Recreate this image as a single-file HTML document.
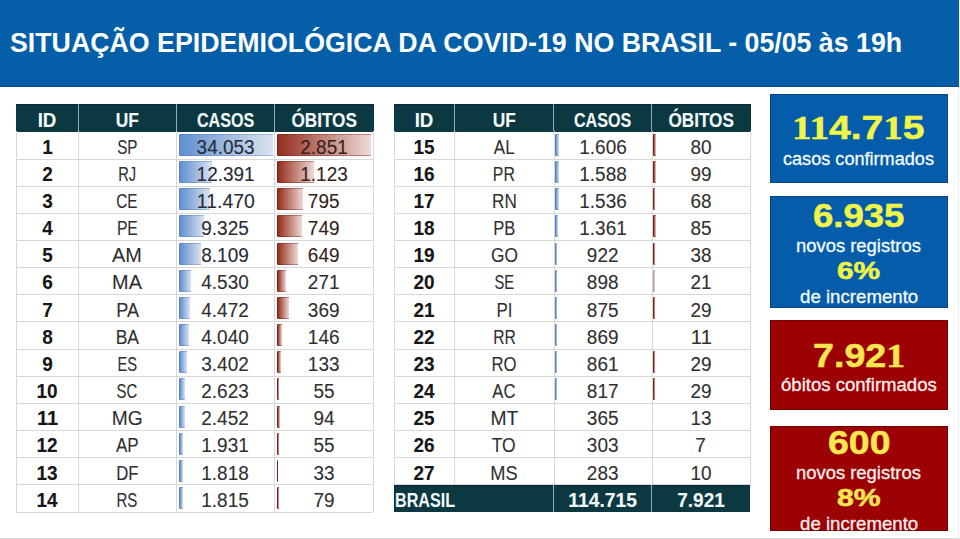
<!DOCTYPE html>
<html><head><meta charset="utf-8"><style>
*{margin:0;padding:0;box-sizing:border-box}
html,body{width:960px;height:539px;overflow:hidden;background:#fff}
body{position:relative;font-family:"Liberation Sans",sans-serif}
div{position:absolute}
#top{left:0;top:0;width:958.5px;height:87px;background:#055ea8;box-shadow:inset 0 -1.5px 0 #0b4f8c}
#title{left:10.4px;top:30.14px;line-height:27.0px;white-space:nowrap;color:#fdfeff;font-weight:bold;font-size:27.0px;transform:scaleX(0.9905);transform-origin:0 0}
#botline{left:0;top:537.6px;width:960px;height:1.4px;background:#dadada}
#rline{left:958px;top:87px;width:1px;height:452px;background:#ededed}
.hd{background:#0c3842;box-shadow:inset 0 1px 0 #082b33}
.hsep{width:1px;background:#8fb0b8}
.c{text-align:center;white-space:nowrap}
.c span{display:inline-block}
.hl{height:1px;background:#d8d8d8}
.vl{width:1px;background:#d8d8d8}
.bar{}
.bn{-webkit-text-stroke:0.5px currentColor}
.sn{-webkit-text-stroke:0.3px currentColor}
.sf{font-family:"Liberation Serif",serif}
.c{-webkit-text-stroke:0.1px currentColor}
.bl{background:linear-gradient(90deg,#6190d1 0%,#dbe3f0 100%);border-left:1px solid #5682c4;border-top:1px solid rgba(70,115,185,.35);border-bottom:1px solid rgba(70,115,185,.35)}
.rd{background:linear-gradient(90deg,#952e1e 0%,#efdad6 100%);border-left:1px solid #7a2016;border-top:1px solid rgba(115,30,20,.4);border-bottom:1px solid rgba(115,30,20,.4)}
</style></head><body>
<div id="top"></div>
<div id="title">SITUAÇÃO EPIDEMIOLÓGICA DA COVID-19 NO BRASIL - 05/05 às 19h</div>
<div class="hd" style="left:16.3px;top:104.3px;width:357.40px;height:27.36px"></div>
<div class="hsep" style="left:77.5px;top:104.3px;height:27.16px"></div>
<div class="hsep" style="left:175.8px;top:104.3px;height:27.16px"></div>
<div class="hsep" style="left:274.0px;top:104.3px;height:27.16px"></div>
<div class="c" style="left:16.30px;top:109.97px;width:61.70px;font-size:20.0px;line-height:20.0px;color:#f4fbfd;font-weight:bold;"><span style="transform:scaleX(0.933)">ID</span></div>
<div class="c" style="left:78.00px;top:109.97px;width:98.30px;font-size:20.0px;line-height:20.0px;color:#f4fbfd;font-weight:bold;"><span style="transform:scaleX(0.868)">UF</span></div>
<div class="c" style="left:176.30px;top:109.97px;width:98.20px;font-size:20.0px;line-height:20.0px;color:#f4fbfd;font-weight:bold;"><span style="transform:scaleX(0.806)">CASOS</span></div>
<div class="c" style="left:274.50px;top:109.97px;width:98.80px;font-size:20.0px;line-height:20.0px;color:#f4fbfd;font-weight:bold;"><span style="transform:scaleX(0.858)">ÓBITOS</span></div>
<div class="bar bl" style="left:178.80px;top:133.96px;width:94.00px;height:22.06px;"></div>
<div class="bar rd" style="left:277.00px;top:133.96px;width:94.00px;height:22.06px;"></div>
<div class="bar bl" style="left:178.80px;top:161.12px;width:33.70px;height:22.06px;"></div>
<div class="bar rd" style="left:277.00px;top:161.12px;width:36.89px;height:22.06px;"></div>
<div class="bar bl" style="left:178.80px;top:188.28px;width:31.14px;height:22.06px;"></div>
<div class="bar rd" style="left:277.00px;top:188.28px;width:26.05px;height:22.06px;"></div>
<div class="bar bl" style="left:178.80px;top:215.44px;width:25.17px;height:22.06px;"></div>
<div class="bar rd" style="left:277.00px;top:215.44px;width:24.52px;height:22.06px;"></div>
<div class="bar bl" style="left:178.80px;top:242.60px;width:21.78px;height:22.06px;"></div>
<div class="bar rd" style="left:277.00px;top:242.60px;width:21.22px;height:22.06px;"></div>
<div class="bar bl" style="left:178.80px;top:269.76px;width:11.82px;height:22.06px;"></div>
<div class="bar rd" style="left:277.00px;top:269.76px;width:8.73px;height:22.06px;"></div>
<div class="bar bl" style="left:178.80px;top:296.92px;width:11.66px;height:22.06px;"></div>
<div class="bar rd" style="left:277.00px;top:296.92px;width:11.96px;height:22.06px;"></div>
<div class="bar bl" style="left:178.80px;top:324.08px;width:10.46px;height:22.06px;"></div>
<div class="bar rd" style="left:277.00px;top:324.08px;width:4.59px;height:22.06px;"></div>
<div class="bar bl" style="left:178.80px;top:351.24px;width:8.68px;height:22.06px;"></div>
<div class="bar rd" style="left:277.00px;top:351.24px;width:4.16px;height:22.06px;"></div>
<div class="bar bl" style="left:178.80px;top:378.40px;width:6.51px;height:22.06px;"></div>
<div class="bar rd" style="left:277.00px;top:378.40px;width:1.59px;height:22.06px;"></div>
<div class="bar bl" style="left:178.80px;top:405.56px;width:6.04px;height:22.06px;"></div>
<div class="bar rd" style="left:277.00px;top:405.56px;width:2.88px;height:22.06px;"></div>
<div class="bar bl" style="left:178.80px;top:432.72px;width:4.59px;height:22.06px;"></div>
<div class="bar rd" style="left:277.00px;top:432.72px;width:1.59px;height:22.06px;"></div>
<div class="bar bl" style="left:178.80px;top:459.88px;width:4.27px;height:22.06px;"></div>
<div class="bar rd" style="left:277.00px;top:459.88px;width:1.20px;height:22.06px;"></div>
<div class="bar bl" style="left:178.80px;top:487.04px;width:4.26px;height:22.06px;"></div>
<div class="bar rd" style="left:277.00px;top:487.04px;width:2.38px;height:22.06px;"></div>
<div class="hl" style="left:16px;top:159px;width:357px"></div>
<div class="hl" style="left:16px;top:186px;width:357px"></div>
<div class="hl" style="left:16px;top:213px;width:357px"></div>
<div class="hl" style="left:16px;top:240px;width:357px"></div>
<div class="hl" style="left:16px;top:267px;width:357px"></div>
<div class="hl" style="left:16px;top:294px;width:357px"></div>
<div class="hl" style="left:16px;top:321px;width:357px"></div>
<div class="hl" style="left:16px;top:349px;width:357px"></div>
<div class="hl" style="left:16px;top:376px;width:357px"></div>
<div class="hl" style="left:16px;top:403px;width:357px"></div>
<div class="hl" style="left:16px;top:430px;width:357px"></div>
<div class="hl" style="left:16px;top:457px;width:357px"></div>
<div class="hl" style="left:16px;top:484px;width:357px"></div>
<div class="hl" style="left:16px;top:512px;width:357px"></div>
<div class="vl" style="left:16px;top:131px;height:381px"></div>
<div class="vl" style="left:78px;top:131px;height:381px"></div>
<div class="vl" style="left:176px;top:131px;height:381px"></div>
<div class="vl" style="left:274px;top:131px;height:381px"></div>
<div class="vl" style="left:373px;top:131px;height:381px"></div>
<div class="c" style="left:16.30px;top:136.63px;width:61.70px;font-size:20.0px;line-height:20.0px;color:#161616;font-weight:bold;"><span style="transform:scaleX(0.948)">1</span></div>
<div class="c" style="left:78.00px;top:136.63px;width:98.30px;font-size:20.0px;line-height:20.0px;color:#303030;"><span style="transform:scaleX(0.761)">SP</span></div>
<div class="c" style="left:176.30px;top:136.63px;width:98.20px;font-size:20.0px;line-height:20.0px;color:#262a36;"><span style="transform:scaleX(0.948)">34.053</span></div>
<div class="c" style="left:274.50px;top:136.63px;width:98.80px;font-size:20.0px;line-height:20.0px;color:#342222;"><span style="transform:scaleX(0.948)">2.851</span></div>
<div class="c" style="left:16.30px;top:163.79px;width:61.70px;font-size:20.0px;line-height:20.0px;color:#161616;font-weight:bold;"><span style="transform:scaleX(0.948)">2</span></div>
<div class="c" style="left:78.00px;top:163.79px;width:98.30px;font-size:20.0px;line-height:20.0px;color:#303030;"><span style="transform:scaleX(0.734)">RJ</span></div>
<div class="c" style="left:176.30px;top:163.79px;width:98.20px;font-size:20.0px;line-height:20.0px;color:#262a36;"><span style="transform:scaleX(0.948)">12.391</span></div>
<div class="c" style="left:274.50px;top:163.79px;width:98.80px;font-size:20.0px;line-height:20.0px;color:#342222;"><span style="transform:scaleX(0.948)">1.123</span></div>
<div class="c" style="left:16.30px;top:190.95px;width:61.70px;font-size:20.0px;line-height:20.0px;color:#161616;font-weight:bold;"><span style="transform:scaleX(0.948)">3</span></div>
<div class="c" style="left:78.00px;top:190.95px;width:98.30px;font-size:20.0px;line-height:20.0px;color:#303030;"><span style="transform:scaleX(0.764)">CE</span></div>
<div class="c" style="left:176.30px;top:190.95px;width:98.20px;font-size:20.0px;line-height:20.0px;color:#262a36;"><span style="transform:scaleX(0.971)">11.470</span></div>
<div class="c" style="left:274.50px;top:190.95px;width:98.80px;font-size:20.0px;line-height:20.0px;color:#342222;"><span style="transform:scaleX(0.948)">795</span></div>
<div class="c" style="left:16.30px;top:218.11px;width:61.70px;font-size:20.0px;line-height:20.0px;color:#161616;font-weight:bold;"><span style="transform:scaleX(0.948)">4</span></div>
<div class="c" style="left:78.00px;top:218.11px;width:98.30px;font-size:20.0px;line-height:20.0px;color:#303030;"><span style="transform:scaleX(0.784)">PE</span></div>
<div class="c" style="left:176.30px;top:218.11px;width:98.20px;font-size:20.0px;line-height:20.0px;color:#262a36;"><span style="transform:scaleX(0.948)">9.325</span></div>
<div class="c" style="left:274.50px;top:218.11px;width:98.80px;font-size:20.0px;line-height:20.0px;color:#342222;"><span style="transform:scaleX(0.948)">749</span></div>
<div class="c" style="left:16.30px;top:245.27px;width:61.70px;font-size:20.0px;line-height:20.0px;color:#161616;font-weight:bold;"><span style="transform:scaleX(0.948)">5</span></div>
<div class="c" style="left:78.00px;top:245.27px;width:98.30px;font-size:20.0px;line-height:20.0px;color:#303030;"><span style="transform:scaleX(0.994)">AM</span></div>
<div class="c" style="left:176.30px;top:245.27px;width:98.20px;font-size:20.0px;line-height:20.0px;color:#262a36;"><span style="transform:scaleX(0.948)">8.109</span></div>
<div class="c" style="left:274.50px;top:245.27px;width:98.80px;font-size:20.0px;line-height:20.0px;color:#342222;"><span style="transform:scaleX(0.948)">649</span></div>
<div class="c" style="left:16.30px;top:272.43px;width:61.70px;font-size:20.0px;line-height:20.0px;color:#161616;font-weight:bold;"><span style="transform:scaleX(0.948)">6</span></div>
<div class="c" style="left:78.00px;top:272.43px;width:98.30px;font-size:20.0px;line-height:20.0px;color:#303030;"><span style="transform:scaleX(0.994)">MA</span></div>
<div class="c" style="left:176.30px;top:272.43px;width:98.20px;font-size:20.0px;line-height:20.0px;color:#303030;"><span style="transform:scaleX(0.948)">4.530</span></div>
<div class="c" style="left:274.50px;top:272.43px;width:98.80px;font-size:20.0px;line-height:20.0px;color:#303030;"><span style="transform:scaleX(0.948)">271</span></div>
<div class="c" style="left:16.30px;top:299.59px;width:61.70px;font-size:20.0px;line-height:20.0px;color:#161616;font-weight:bold;"><span style="transform:scaleX(0.948)">7</span></div>
<div class="c" style="left:78.00px;top:299.59px;width:98.30px;font-size:20.0px;line-height:20.0px;color:#303030;"><span style="transform:scaleX(0.905)">PA</span></div>
<div class="c" style="left:176.30px;top:299.59px;width:98.20px;font-size:20.0px;line-height:20.0px;color:#303030;"><span style="transform:scaleX(0.948)">4.472</span></div>
<div class="c" style="left:274.50px;top:299.59px;width:98.80px;font-size:20.0px;line-height:20.0px;color:#303030;"><span style="transform:scaleX(0.948)">369</span></div>
<div class="c" style="left:16.30px;top:326.75px;width:61.70px;font-size:20.0px;line-height:20.0px;color:#161616;font-weight:bold;"><span style="transform:scaleX(0.948)">8</span></div>
<div class="c" style="left:78.00px;top:326.75px;width:98.30px;font-size:20.0px;line-height:20.0px;color:#303030;"><span style="transform:scaleX(0.876)">BA</span></div>
<div class="c" style="left:176.30px;top:326.75px;width:98.20px;font-size:20.0px;line-height:20.0px;color:#303030;"><span style="transform:scaleX(0.948)">4.040</span></div>
<div class="c" style="left:274.50px;top:326.75px;width:98.80px;font-size:20.0px;line-height:20.0px;color:#303030;"><span style="transform:scaleX(0.948)">146</span></div>
<div class="c" style="left:16.30px;top:353.91px;width:61.70px;font-size:20.0px;line-height:20.0px;color:#161616;font-weight:bold;"><span style="transform:scaleX(0.948)">9</span></div>
<div class="c" style="left:78.00px;top:353.91px;width:98.30px;font-size:20.0px;line-height:20.0px;color:#303030;"><span style="transform:scaleX(0.738)">ES</span></div>
<div class="c" style="left:176.30px;top:353.91px;width:98.20px;font-size:20.0px;line-height:20.0px;color:#303030;"><span style="transform:scaleX(0.948)">3.402</span></div>
<div class="c" style="left:274.50px;top:353.91px;width:98.80px;font-size:20.0px;line-height:20.0px;color:#303030;"><span style="transform:scaleX(0.948)">133</span></div>
<div class="c" style="left:16.30px;top:381.07px;width:61.70px;font-size:20.0px;line-height:20.0px;color:#161616;font-weight:bold;"><span style="transform:scaleX(0.948)">10</span></div>
<div class="c" style="left:78.00px;top:381.07px;width:98.30px;font-size:20.0px;line-height:20.0px;color:#303030;"><span style="transform:scaleX(0.743)">SC</span></div>
<div class="c" style="left:176.30px;top:381.07px;width:98.20px;font-size:20.0px;line-height:20.0px;color:#303030;"><span style="transform:scaleX(0.948)">2.623</span></div>
<div class="c" style="left:274.50px;top:381.07px;width:98.80px;font-size:20.0px;line-height:20.0px;color:#303030;"><span style="transform:scaleX(0.948)">55</span></div>
<div class="c" style="left:16.30px;top:408.23px;width:61.70px;font-size:20.0px;line-height:20.0px;color:#161616;font-weight:bold;"><span style="transform:scaleX(0.998)">11</span></div>
<div class="c" style="left:78.00px;top:408.23px;width:98.30px;font-size:20.0px;line-height:20.0px;color:#303030;"><span style="transform:scaleX(0.959)">MG</span></div>
<div class="c" style="left:176.30px;top:408.23px;width:98.20px;font-size:20.0px;line-height:20.0px;color:#303030;"><span style="transform:scaleX(0.948)">2.452</span></div>
<div class="c" style="left:274.50px;top:408.23px;width:98.80px;font-size:20.0px;line-height:20.0px;color:#303030;"><span style="transform:scaleX(0.948)">94</span></div>
<div class="c" style="left:16.30px;top:435.39px;width:61.70px;font-size:20.0px;line-height:20.0px;color:#161616;font-weight:bold;"><span style="transform:scaleX(0.948)">12</span></div>
<div class="c" style="left:78.00px;top:435.39px;width:98.30px;font-size:20.0px;line-height:20.0px;color:#303030;"><span style="transform:scaleX(0.854)">AP</span></div>
<div class="c" style="left:176.30px;top:435.39px;width:98.20px;font-size:20.0px;line-height:20.0px;color:#303030;"><span style="transform:scaleX(0.948)">1.931</span></div>
<div class="c" style="left:274.50px;top:435.39px;width:98.80px;font-size:20.0px;line-height:20.0px;color:#303030;"><span style="transform:scaleX(0.948)">55</span></div>
<div class="c" style="left:16.30px;top:462.55px;width:61.70px;font-size:20.0px;line-height:20.0px;color:#161616;font-weight:bold;"><span style="transform:scaleX(0.948)">13</span></div>
<div class="c" style="left:78.00px;top:462.55px;width:98.30px;font-size:20.0px;line-height:20.0px;color:#303030;"><span style="transform:scaleX(0.838)">DF</span></div>
<div class="c" style="left:176.30px;top:462.55px;width:98.20px;font-size:20.0px;line-height:20.0px;color:#303030;"><span style="transform:scaleX(0.948)">1.818</span></div>
<div class="c" style="left:274.50px;top:462.55px;width:98.80px;font-size:20.0px;line-height:20.0px;color:#303030;"><span style="transform:scaleX(0.948)">33</span></div>
<div class="c" style="left:16.30px;top:489.71px;width:61.70px;font-size:20.0px;line-height:20.0px;color:#161616;font-weight:bold;"><span style="transform:scaleX(0.948)">14</span></div>
<div class="c" style="left:78.00px;top:489.71px;width:98.30px;font-size:20.0px;line-height:20.0px;color:#303030;"><span style="transform:scaleX(0.750)">RS</span></div>
<div class="c" style="left:176.30px;top:489.71px;width:98.20px;font-size:20.0px;line-height:20.0px;color:#303030;"><span style="transform:scaleX(0.948)">1.815</span></div>
<div class="c" style="left:274.50px;top:489.71px;width:98.80px;font-size:20.0px;line-height:20.0px;color:#303030;"><span style="transform:scaleX(0.948)">79</span></div>
<div class="hd" style="left:393.8px;top:104.3px;width:356.80px;height:27.36px"></div>
<div class="hsep" style="left:454.0px;top:104.3px;height:27.16px"></div>
<div class="hsep" style="left:553.4px;top:104.3px;height:27.16px"></div>
<div class="hsep" style="left:651.4px;top:104.3px;height:27.16px"></div>
<div class="c" style="left:393.80px;top:109.97px;width:60.70px;font-size:20.0px;line-height:20.0px;color:#f4fbfd;font-weight:bold;"><span style="transform:scaleX(0.933)">ID</span></div>
<div class="c" style="left:454.50px;top:109.97px;width:99.40px;font-size:20.0px;line-height:20.0px;color:#f4fbfd;font-weight:bold;"><span style="transform:scaleX(0.868)">UF</span></div>
<div class="c" style="left:553.90px;top:109.97px;width:98.00px;font-size:20.0px;line-height:20.0px;color:#f4fbfd;font-weight:bold;"><span style="transform:scaleX(0.806)">CASOS</span></div>
<div class="c" style="left:651.90px;top:109.97px;width:98.30px;font-size:20.0px;line-height:20.0px;color:#f4fbfd;font-weight:bold;"><span style="transform:scaleX(0.858)">ÓBITOS</span></div>
<div class="bar bl" style="left:555.40px;top:133.96px;width:3.68px;height:22.06px;"></div>
<div class="bar rd" style="left:653.40px;top:133.96px;width:2.41px;height:22.06px;"></div>
<div class="bar bl" style="left:555.40px;top:161.12px;width:3.63px;height:22.06px;"></div>
<div class="bar rd" style="left:653.40px;top:161.12px;width:3.04px;height:22.06px;"></div>
<div class="bar bl" style="left:555.40px;top:188.28px;width:3.49px;height:22.06px;"></div>
<div class="bar rd" style="left:653.40px;top:188.28px;width:2.02px;height:22.06px;"></div>
<div class="bar bl" style="left:555.40px;top:215.44px;width:3.00px;height:22.06px;"></div>
<div class="bar rd" style="left:653.40px;top:215.44px;width:2.58px;height:22.06px;"></div>
<div class="bar bl" style="left:555.40px;top:242.60px;width:1.78px;height:22.06px;"></div>
<div class="bar rd" style="left:653.40px;top:242.60px;width:1.20px;height:22.06px;"></div>
<div class="bar bl" style="left:555.40px;top:269.76px;width:1.71px;height:22.06px;"></div>
<div class="bar rd" style="left:653.40px;top:269.76px;width:1.20px;height:22.06px;opacity:0.45;"></div>
<div class="bar bl" style="left:555.40px;top:296.92px;width:1.65px;height:22.06px;"></div>
<div class="bar rd" style="left:653.40px;top:296.92px;width:1.20px;height:22.06px;"></div>
<div class="bar bl" style="left:555.40px;top:324.08px;width:1.63px;height:22.06px;"></div>
<div class="bar bl" style="left:555.40px;top:351.24px;width:1.61px;height:22.06px;"></div>
<div class="bar rd" style="left:653.40px;top:351.24px;width:1.20px;height:22.06px;"></div>
<div class="bar bl" style="left:555.40px;top:378.40px;width:1.49px;height:22.06px;"></div>
<div class="bar rd" style="left:653.40px;top:378.40px;width:1.20px;height:22.06px;"></div>
<div class="hl" style="left:394px;top:159px;width:356px"></div>
<div class="hl" style="left:394px;top:186px;width:356px"></div>
<div class="hl" style="left:394px;top:213px;width:356px"></div>
<div class="hl" style="left:394px;top:240px;width:356px"></div>
<div class="hl" style="left:394px;top:267px;width:356px"></div>
<div class="hl" style="left:394px;top:294px;width:356px"></div>
<div class="hl" style="left:394px;top:321px;width:356px"></div>
<div class="hl" style="left:394px;top:349px;width:356px"></div>
<div class="hl" style="left:394px;top:376px;width:356px"></div>
<div class="hl" style="left:394px;top:403px;width:356px"></div>
<div class="hl" style="left:394px;top:430px;width:356px"></div>
<div class="hl" style="left:394px;top:457px;width:356px"></div>
<div class="hl" style="left:394px;top:484px;width:356px"></div>
<div class="vl" style="left:394px;top:131px;height:354px"></div>
<div class="vl" style="left:454px;top:131px;height:354px"></div>
<div class="vl" style="left:554px;top:131px;height:354px"></div>
<div class="vl" style="left:652px;top:131px;height:354px"></div>
<div class="vl" style="left:750px;top:131px;height:354px"></div>
<div class="c" style="left:393.80px;top:136.63px;width:60.70px;font-size:20.0px;line-height:20.0px;color:#161616;font-weight:bold;"><span style="transform:scaleX(0.948)">15</span></div>
<div class="c" style="left:454.50px;top:136.63px;width:99.40px;font-size:20.0px;line-height:20.0px;color:#303030;"><span style="transform:scaleX(0.849)">AL</span></div>
<div class="c" style="left:553.90px;top:136.63px;width:98.00px;font-size:20.0px;line-height:20.0px;color:#303030;"><span style="transform:scaleX(0.948)">1.606</span></div>
<div class="c" style="left:651.90px;top:136.63px;width:98.30px;font-size:20.0px;line-height:20.0px;color:#303030;"><span style="transform:scaleX(0.948)">80</span></div>
<div class="c" style="left:393.80px;top:163.79px;width:60.70px;font-size:20.0px;line-height:20.0px;color:#161616;font-weight:bold;"><span style="transform:scaleX(0.948)">16</span></div>
<div class="c" style="left:454.50px;top:163.79px;width:99.40px;font-size:20.0px;line-height:20.0px;color:#303030;"><span style="transform:scaleX(0.794)">PR</span></div>
<div class="c" style="left:553.90px;top:163.79px;width:98.00px;font-size:20.0px;line-height:20.0px;color:#303030;"><span style="transform:scaleX(0.948)">1.588</span></div>
<div class="c" style="left:651.90px;top:163.79px;width:98.30px;font-size:20.0px;line-height:20.0px;color:#303030;"><span style="transform:scaleX(0.948)">99</span></div>
<div class="c" style="left:393.80px;top:190.95px;width:60.70px;font-size:20.0px;line-height:20.0px;color:#161616;font-weight:bold;"><span style="transform:scaleX(0.948)">17</span></div>
<div class="c" style="left:454.50px;top:190.95px;width:99.40px;font-size:20.0px;line-height:20.0px;color:#303030;"><span style="transform:scaleX(0.856)">RN</span></div>
<div class="c" style="left:553.90px;top:190.95px;width:98.00px;font-size:20.0px;line-height:20.0px;color:#303030;"><span style="transform:scaleX(0.948)">1.536</span></div>
<div class="c" style="left:651.90px;top:190.95px;width:98.30px;font-size:20.0px;line-height:20.0px;color:#303030;"><span style="transform:scaleX(0.948)">68</span></div>
<div class="c" style="left:393.80px;top:218.11px;width:60.70px;font-size:20.0px;line-height:20.0px;color:#161616;font-weight:bold;"><span style="transform:scaleX(0.948)">18</span></div>
<div class="c" style="left:454.50px;top:218.11px;width:99.40px;font-size:20.0px;line-height:20.0px;color:#303030;"><span style="transform:scaleX(0.827)">PB</span></div>
<div class="c" style="left:553.90px;top:218.11px;width:98.00px;font-size:20.0px;line-height:20.0px;color:#303030;"><span style="transform:scaleX(0.948)">1.361</span></div>
<div class="c" style="left:651.90px;top:218.11px;width:98.30px;font-size:20.0px;line-height:20.0px;color:#303030;"><span style="transform:scaleX(0.948)">85</span></div>
<div class="c" style="left:393.80px;top:245.27px;width:60.70px;font-size:20.0px;line-height:20.0px;color:#161616;font-weight:bold;"><span style="transform:scaleX(0.948)">19</span></div>
<div class="c" style="left:454.50px;top:245.27px;width:99.40px;font-size:20.0px;line-height:20.0px;color:#303030;"><span style="transform:scaleX(0.864)">GO</span></div>
<div class="c" style="left:553.90px;top:245.27px;width:98.00px;font-size:20.0px;line-height:20.0px;color:#303030;"><span style="transform:scaleX(0.948)">922</span></div>
<div class="c" style="left:651.90px;top:245.27px;width:98.30px;font-size:20.0px;line-height:20.0px;color:#303030;"><span style="transform:scaleX(0.948)">38</span></div>
<div class="c" style="left:393.80px;top:272.43px;width:60.70px;font-size:20.0px;line-height:20.0px;color:#161616;font-weight:bold;"><span style="transform:scaleX(0.948)">20</span></div>
<div class="c" style="left:454.50px;top:272.43px;width:99.40px;font-size:20.0px;line-height:20.0px;color:#303030;"><span style="transform:scaleX(0.738)">SE</span></div>
<div class="c" style="left:553.90px;top:272.43px;width:98.00px;font-size:20.0px;line-height:20.0px;color:#303030;"><span style="transform:scaleX(0.948)">898</span></div>
<div class="c" style="left:651.90px;top:272.43px;width:98.30px;font-size:20.0px;line-height:20.0px;color:#303030;"><span style="transform:scaleX(0.948)">21</span></div>
<div class="c" style="left:393.80px;top:299.59px;width:60.70px;font-size:20.0px;line-height:20.0px;color:#161616;font-weight:bold;"><span style="transform:scaleX(0.948)">21</span></div>
<div class="c" style="left:454.50px;top:299.59px;width:99.40px;font-size:20.0px;line-height:20.0px;color:#303030;"><span style="transform:scaleX(0.846)">PI</span></div>
<div class="c" style="left:553.90px;top:299.59px;width:98.00px;font-size:20.0px;line-height:20.0px;color:#303030;"><span style="transform:scaleX(0.948)">875</span></div>
<div class="c" style="left:651.90px;top:299.59px;width:98.30px;font-size:20.0px;line-height:20.0px;color:#303030;"><span style="transform:scaleX(0.948)">29</span></div>
<div class="c" style="left:393.80px;top:326.75px;width:60.70px;font-size:20.0px;line-height:20.0px;color:#161616;font-weight:bold;"><span style="transform:scaleX(0.948)">22</span></div>
<div class="c" style="left:454.50px;top:326.75px;width:99.40px;font-size:20.0px;line-height:20.0px;color:#303030;"><span style="transform:scaleX(0.782)">RR</span></div>
<div class="c" style="left:553.90px;top:326.75px;width:98.00px;font-size:20.0px;line-height:20.0px;color:#303030;"><span style="transform:scaleX(0.948)">869</span></div>
<div class="c" style="left:651.90px;top:326.75px;width:98.30px;font-size:20.0px;line-height:20.0px;color:#303030;"><span style="transform:scaleX(1.016)">11</span></div>
<div class="c" style="left:393.80px;top:353.91px;width:60.70px;font-size:20.0px;line-height:20.0px;color:#161616;font-weight:bold;"><span style="transform:scaleX(0.948)">23</span></div>
<div class="c" style="left:454.50px;top:353.91px;width:99.40px;font-size:20.0px;line-height:20.0px;color:#303030;"><span style="transform:scaleX(0.835)">RO</span></div>
<div class="c" style="left:553.90px;top:353.91px;width:98.00px;font-size:20.0px;line-height:20.0px;color:#303030;"><span style="transform:scaleX(0.948)">861</span></div>
<div class="c" style="left:651.90px;top:353.91px;width:98.30px;font-size:20.0px;line-height:20.0px;color:#303030;"><span style="transform:scaleX(0.948)">29</span></div>
<div class="c" style="left:393.80px;top:381.07px;width:60.70px;font-size:20.0px;line-height:20.0px;color:#161616;font-weight:bold;"><span style="transform:scaleX(0.948)">24</span></div>
<div class="c" style="left:454.50px;top:381.07px;width:99.40px;font-size:20.0px;line-height:20.0px;color:#303030;"><span style="transform:scaleX(0.832)">AC</span></div>
<div class="c" style="left:553.90px;top:381.07px;width:98.00px;font-size:20.0px;line-height:20.0px;color:#303030;"><span style="transform:scaleX(0.948)">817</span></div>
<div class="c" style="left:651.90px;top:381.07px;width:98.30px;font-size:20.0px;line-height:20.0px;color:#303030;"><span style="transform:scaleX(0.948)">29</span></div>
<div class="c" style="left:393.80px;top:408.23px;width:60.70px;font-size:20.0px;line-height:20.0px;color:#161616;font-weight:bold;"><span style="transform:scaleX(0.948)">25</span></div>
<div class="c" style="left:454.50px;top:408.23px;width:99.40px;font-size:20.0px;line-height:20.0px;color:#303030;"><span style="transform:scaleX(0.967)">MT</span></div>
<div class="c" style="left:553.90px;top:408.23px;width:98.00px;font-size:20.0px;line-height:20.0px;color:#303030;"><span style="transform:scaleX(0.948)">365</span></div>
<div class="c" style="left:651.90px;top:408.23px;width:98.30px;font-size:20.0px;line-height:20.0px;color:#303030;"><span style="transform:scaleX(0.948)">13</span></div>
<div class="c" style="left:393.80px;top:435.39px;width:60.70px;font-size:20.0px;line-height:20.0px;color:#161616;font-weight:bold;"><span style="transform:scaleX(0.948)">26</span></div>
<div class="c" style="left:454.50px;top:435.39px;width:99.40px;font-size:20.0px;line-height:20.0px;color:#303030;"><span style="transform:scaleX(0.872)">TO</span></div>
<div class="c" style="left:553.90px;top:435.39px;width:98.00px;font-size:20.0px;line-height:20.0px;color:#303030;"><span style="transform:scaleX(0.948)">303</span></div>
<div class="c" style="left:651.90px;top:435.39px;width:98.30px;font-size:20.0px;line-height:20.0px;color:#303030;"><span style="transform:scaleX(0.948)">7</span></div>
<div class="c" style="left:393.80px;top:462.55px;width:60.70px;font-size:20.0px;line-height:20.0px;color:#161616;font-weight:bold;"><span style="transform:scaleX(0.948)">27</span></div>
<div class="c" style="left:454.50px;top:462.55px;width:99.40px;font-size:20.0px;line-height:20.0px;color:#303030;"><span style="transform:scaleX(0.911)">MS</span></div>
<div class="c" style="left:553.90px;top:462.55px;width:98.00px;font-size:20.0px;line-height:20.0px;color:#303030;"><span style="transform:scaleX(0.948)">283</span></div>
<div class="c" style="left:651.90px;top:462.55px;width:98.30px;font-size:20.0px;line-height:20.0px;color:#303030;"><span style="transform:scaleX(0.948)">10</span></div>
<div class="hd" style="left:393.8px;top:485.24px;width:356.40px;height:26.66px"></div>
<div class="hsep" style="left:553.4px;top:484.54px;height:27.16px"></div>
<div class="hsep" style="left:651.4px;top:484.54px;height:27.16px"></div>
<div style="left:395.01px;top:490.01px;font-size:20.0px;line-height:20.0px;color:#f4fbfd;font-weight:bold;transform:scaleX(0.808);transform-origin:0 0;white-space:nowrap">BRASIL</div>
<div class="c" style="left:553.90px;top:490.01px;width:98.00px;font-size:20.0px;line-height:20.0px;color:#f4fbfd;font-weight:bold;"><span style="transform:scaleX(0.964)">114.715</span></div>
<div class="c" style="left:651.90px;top:490.01px;width:98.30px;font-size:20.0px;line-height:20.0px;color:#f4fbfd;font-weight:bold;"><span style="transform:scaleX(0.950)">7.921</span></div>
<div style="left:770.4px;top:93.8px;width:177.2px;height:89.1px;background:#055caa;border:1px solid #08467f"></div>
<div style="left:770.1px;top:195.9px;width:177.6px;height:111.7px;background:#055caa;border:1px solid #08467f"></div>
<div style="left:770.0px;top:320.0px;width:177.5px;height:89.6px;background:#9c0103;border:1px solid #740000"></div>
<div style="left:769.8px;top:426.0px;width:177.8px;height:105.2px;background:#9c0103;border:1px solid #740000"></div>
<div class="bn" style="left:792.47px;top:112.20px;font-size:32.96px;line-height:32.96px;color:#f0f548;font-weight:bold;transform:scaleX(1.185);transform-origin:0 0;white-space:nowrap"><span class="sf">1</span><span class="sf">1</span>4.7<span class="sf">1</span>5</div>
<div class="sn" style="left:783.43px;top:148.75px;font-size:19.08px;line-height:19.08px;color:#f4fcff;transform:scaleX(0.949);transform-origin:0 0;white-space:nowrap">casos confirmados</div>
<div class="bn" style="left:813.13px;top:200.00px;font-size:32.96px;line-height:32.96px;color:#f0f548;font-weight:bold;transform:scaleX(1.108);transform-origin:0 0;white-space:nowrap">6.935</div>
<div class="sn" style="left:796.26px;top:235.85px;font-size:19.08px;line-height:19.08px;color:#f4fcff;transform:scaleX(0.965);transform-origin:0 0;white-space:nowrap">novos registros</div>
<div class="bn" style="left:837.28px;top:260.07px;font-size:23.18px;line-height:23.18px;color:#f0f548;font-weight:bold;transform:scaleX(1.288);transform-origin:0 0;white-space:nowrap">6%</div>
<div class="sn" style="left:799.81px;top:286.55px;font-size:19.08px;line-height:19.08px;color:#f4fcff;transform:scaleX(0.978);transform-origin:0 0;white-space:nowrap">de incremento</div>
<div class="bn" style="left:813.20px;top:339.50px;font-size:32.96px;line-height:32.96px;color:#f9e650;font-weight:bold;transform:scaleX(1.142);transform-origin:0 0;white-space:nowrap">7.92<span class="sf">1</span></div>
<div class="sn" style="left:780.81px;top:374.75px;font-size:19.08px;line-height:19.08px;color:#fff0ee;transform:scaleX(0.973);transform-origin:0 0;white-space:nowrap">óbitos confirmados</div>
<div class="bn" style="left:827.99px;top:426.90px;font-size:32.96px;line-height:32.96px;color:#f9e650;font-weight:bold;transform:scaleX(1.137);transform-origin:0 0;white-space:nowrap">600</div>
<div class="sn" style="left:796.26px;top:462.85px;font-size:19.08px;line-height:19.08px;color:#fff0ee;transform:scaleX(0.965);transform-origin:0 0;white-space:nowrap">novos registros</div>
<div class="bn" style="left:836.62px;top:486.67px;font-size:23.18px;line-height:23.18px;color:#f9e650;font-weight:bold;transform:scaleX(1.302);transform-origin:0 0;white-space:nowrap">8%</div>
<div class="sn" style="left:799.81px;top:514.35px;font-size:19.08px;line-height:19.08px;color:#fff0ee;transform:scaleX(0.978);transform-origin:0 0;white-space:nowrap">de incremento</div>
<div id="botline"></div>
<div id="rline"></div>
</body></html>
